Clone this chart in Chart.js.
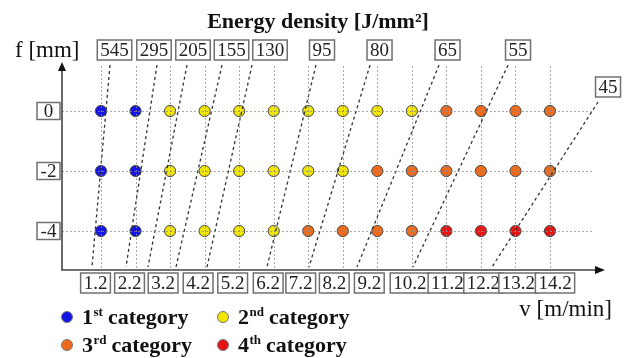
<!DOCTYPE html>
<html>
<head>
<meta charset="utf-8">
<title>Energy density</title>
<script src="https://cdn.jsdelivr.net/npm/chart.js@4/dist/chart.umd.min.js"></script>
<style>
  html, body { margin: 0; padding: 0; background: #fff; }
  #wrap { width: 626px; height: 358px; }
</style>
</head>
<body>
<div id="wrap"><canvas id="chart" width="626" height="358"></canvas></div>
<script>
// Feed rate (v, m/min) and focal position (f, mm) of every test spot
const velocities = [1.2, 2.2, 3.2, 4.2, 5.2, 6.2, 7.2, 8.2, 9.2, 10.2, 11.2, 12.2, 13.2, 14.2];
const velocityLabels = ['1.2', '2.2', '3.2', '4.2', '5.2', '6.2', '7.2', '8.2', '9.2', '10.2', '11.2', '12.2', '13.2', '14.2'];
const focusRows = [0, -2, -4];
const focusLabels = ['0', '-2', '-4'];

// Quality category of each spot, one list per focal position (same order as velocities)
const categoryF0 = [1, 1, 2, 2, 2, 2, 2, 2, 2, 2, 3, 3, 3, 3];
const categoryFm2 = [1, 1, 2, 2, 2, 2, 2, 2, 3, 3, 3, 3, 3, 3];
const categoryFm4 = [1, 1, 2, 2, 2, 2, 3, 3, 3, 3, 4, 4, 4, 4];

const categoryNumbers = ['1', '2', '3', '4'];
const categorySuffixes = ['st', 'nd', 'rd', 'th'];

// Iso-energy-density lines, J/mm², given by their end points (v, f)
const densityLabels = ['545', '295', '205', '155', '130', '95', '80', '65', '55', '45'];
const densityTopV = [1.461, 2.821, 3.690, 4.703, 5.572, 7.425, 8.989, 10.987, 12.984, 15.59];
const densityTopF = [1.533, 1.533, 1.533, 1.533, 1.533, 1.533, 1.533, 1.533, 1.533, 0.3];
const densityBottomV = [0.939, 1.924, 2.561, 3.372, 4.269, 6.006, 7.222, 8.612, 10.233, 12.521];
const densityBottomF = [-5.2, -5.2, -5.2, -5.2, -5.2, -5.2, -5.2, -5.2, -5.2, -5.2];

// ---- styling ----
const SERIF = '"Liberation Serif", "Times New Roman", serif';
const categoryColors = ['#1414e6', '#f2e600', '#ef6a1a', '#e81414'];
const densityLabelShift = [4.5, -3, 6, 9.5, 18, 6, 9.5, 8.5, 10, 10];
const velocityLabelShift = [-5.5, -6, -7, -6.5, -6.5, -5.5, -7.5, -8.5, -8, -2, 1, 2.5, 3, 5];

const categoryRows = [categoryF0, categoryFm2, categoryFm4];

const pointDatasets = categoryNumbers.map((num, ci) => {
  const pts = [];
  focusRows.forEach((f, ri) => {
    categoryRows[ri].forEach((c, vi) => {
      if (c === ci + 1) pts.push({ x: velocities[vi], y: f });
    });
  });
  return {
    type: 'scatter',
    label: num + categorySuffixes[ci] + ' category',
    data: pts,
    backgroundColor: categoryColors[ci],
    borderColor: '#4a4a4a',
    borderWidth: 1,
    pointRadius: 5.6,
    order: 2
  };
});

const lineDatasets = densityLabels.map((lab, i) => ({
  type: 'line',
  label: lab,
  data: [
    { x: densityTopV[i], y: densityTopF[i] },
    { x: densityBottomV[i], y: densityBottomF[i] }
  ],
  borderColor: '#333',
  borderWidth: 1.3,
  borderDash: [3, 3],
  pointRadius: 0,
  fill: false,
  order: 1
}));

function boxText(ctx, text, cx, cy, font, w, h) {
  ctx.save();
  ctx.font = font;
  const tw = ctx.measureText(text).width;
  const bw = w || tw + 6;
  ctx.fillStyle = '#fff';
  ctx.fillRect(cx - bw / 2, cy - h / 2, bw, h);
  ctx.strokeStyle = '#707070';
  ctx.lineWidth = 1.5;
  ctx.strokeRect(cx - bw / 2, cy - h / 2, bw, h);
  ctx.fillStyle = '#222';
  ctx.textAlign = 'center';
  ctx.textBaseline = 'middle';
  ctx.fillText(text, cx, cy + 1);
  ctx.restore();
}

// Dotted grid through each tested v and f
const gridPlugin = {
  id: 'spotGrid',
  afterDatasetsDraw(chart) {
    const { ctx, scales: { x, y } } = chart;
    ctx.save();
    ctx.strokeStyle = 'rgba(140,140,140,0.75)';
    ctx.lineWidth = 1;
    ctx.setLineDash([2, 2]);
    const top = y.getPixelForValue(1.5);
    const bottom = y.getPixelForValue(y.min);
    velocities.forEach(v => {
      const px = Math.round(x.getPixelForValue(v)) + 0.5;
      ctx.beginPath(); ctx.moveTo(px, top); ctx.lineTo(px, bottom); ctx.stroke();
    });
    const left = x.getPixelForValue(x.min);
    const right = x.getPixelForValue(15.45);
    focusRows.forEach(f => {
      const py = Math.round(y.getPixelForValue(f)) + 0.5;
      ctx.beginPath(); ctx.moveTo(left, py); ctx.lineTo(right, py); ctx.stroke();
    });
    ctx.restore();
  }
};

// Axes with arrow heads, boxed tick labels, titles and legend
const decorPlugin = {
  id: 'decor',
  afterDraw(chart) {
    const { ctx, scales: { x, y } } = chart;
    const x0 = x.getPixelForValue(x.min);
    const x1 = x.getPixelForValue(x.max);
    const y0 = y.getPixelForValue(y.min);
    const y1 = y.getPixelForValue(y.max);

    ctx.save();
    ctx.strokeStyle = '#444';
    ctx.fillStyle = '#111';
    ctx.lineWidth = 1.6;
    ctx.beginPath();
    ctx.moveTo(x0, y1 + 6); ctx.lineTo(x0, y0); ctx.lineTo(x1 - 8, y0);
    ctx.stroke();
    // arrow heads
    ctx.beginPath();
    ctx.moveTo(x0, y1); ctx.lineTo(x0 - 4, y1 + 9); ctx.lineTo(x0 + 4, y1 + 9); ctx.closePath(); ctx.fill();
    ctx.beginPath();
    ctx.moveTo(x1, y0); ctx.lineTo(x1 - 10, y0 - 4); ctx.lineTo(x1 - 10, y0 + 4); ctx.closePath(); ctx.fill();
    ctx.restore();

    // velocity tick labels
    velocityLabels.forEach((t, i) => {
      boxText(ctx, t, x.getPixelForValue(velocities[i]) + velocityLabelShift[i], y0 + 13, '19px ' + SERIF, null, 20);
    });
    // focal position tick labels
    focusLabels.forEach((t, i) => {
      boxText(ctx, t, x0 - 13.5, y.getPixelForValue(focusRows[i]), '19px ' + SERIF, 23, 17);
    });
    // energy density labels
    densityLabels.forEach((t, i) => {
      const cx = x.getPixelForValue(densityTopV[i]) + densityLabelShift[i];
      const cy = y.getPixelForValue(densityTopF[i]) - 15;
      boxText(ctx, t, cx, cy, '19px ' + SERIF, null, 20);
    });

    ctx.save();
    ctx.fillStyle = '#111';
    ctx.textBaseline = 'alphabetic';
    // title
    ctx.font = 'bold 22px ' + SERIF;
    ctx.textAlign = 'center';
    ctx.fillText('Energy density [J/mm²]', 318, 28);
    // axis titles
    ctx.font = '23px ' + SERIF;
    ctx.textAlign = 'left';
    ctx.fillText('f [mm]', 15, 57);
    ctx.textAlign = 'right';
    ctx.fillText('v [m/min]', 612, 316);

    // legend
    const legendPos = [[67, 317], [223, 317], [67, 345], [223, 345]];
    categoryNumbers.forEach((n, i) => {
      const [lx, ly] = legendPos[i];
      ctx.beginPath();
      ctx.arc(lx, ly, 5.5, 0, Math.PI * 2);
      ctx.fillStyle = categoryColors[i];
      ctx.fill();
      ctx.strokeStyle = '#777';
      ctx.lineWidth = 1;
      ctx.stroke();
      ctx.fillStyle = '#111';
      ctx.textAlign = 'left';
      let tx = lx + 15;
      const base = ly + 7;
      ctx.font = 'bold 22px ' + SERIF;
      ctx.fillText(n, tx, base);
      tx += ctx.measureText(n).width + 0.5;
      ctx.font = 'bold 13px ' + SERIF;
      ctx.fillText(categorySuffixes[i], tx, base - 8);
      tx += ctx.measureText(categorySuffixes[i]).width + 5;
      ctx.font = 'bold 22px ' + SERIF;
      ctx.fillText('category', tx, base);
    });
    ctx.restore();
  }
};

new Chart(document.getElementById('chart'), {
  type: 'scatter',
  data: { datasets: [...pointDatasets, ...lineDatasets] },
  options: {
    responsive: false,
    animation: false,
    layout: { padding: { left: 62, top: 62, right: 21, bottom: 88 } },
    plugins: {
      legend: { display: false },
      tooltip: { enabled: false },
      title: { display: false }
    },
    scales: {
      x: { type: 'linear', display: false, min: 0.0708, max: 15.792 },
      y: { type: 'linear', display: false, min: -5.3, max: 1.633 }
    }
  },
  plugins: [gridPlugin, decorPlugin]
});
</script>
</body>
</html>
